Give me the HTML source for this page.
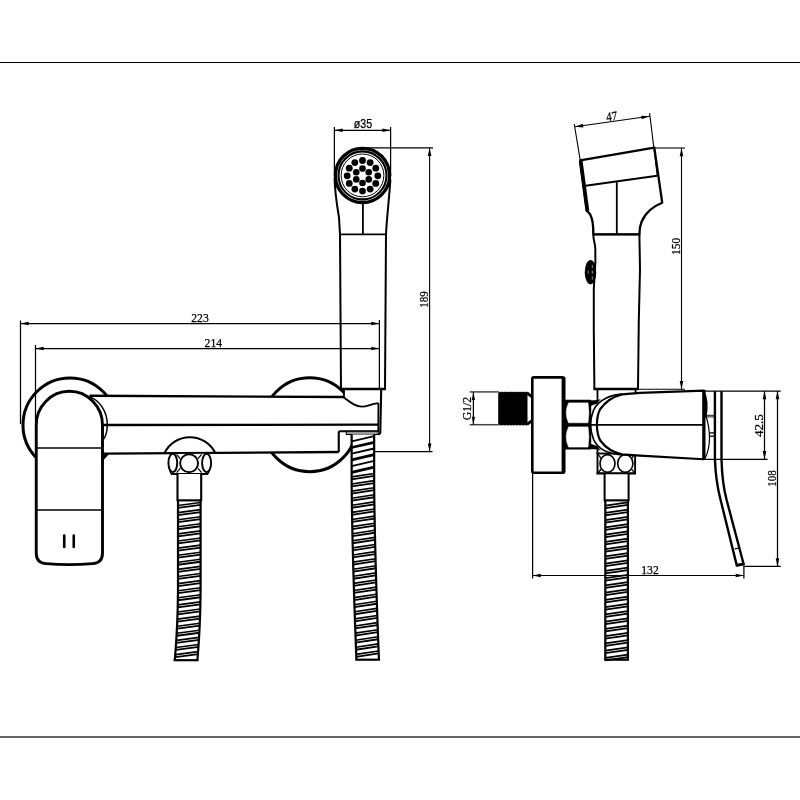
<!DOCTYPE html>
<html lang="en"><head><meta charset="utf-8"><title>Shower mixer dimension drawing</title>
<style>html,body{margin:0;padding:0;background:#fff;}body{width:800px;height:800px;overflow:hidden;}svg{display:block;will-change:transform;}text{fill:#000;stroke:#000;stroke-width:0.25px;}</style></head>
<body>
<svg width="800" height="800" viewBox="0 0 800 800">
<rect width="800" height="800" fill="#fff"/>
<line x1="0" y1="62.5" x2="800" y2="62.5" stroke="#000" stroke-width="1.05" stroke-linecap="butt"/>
<line x1="0" y1="737" x2="800" y2="737" stroke="#333" stroke-width="1.5" stroke-linecap="butt"/>
<g id="front">
<circle cx="70" cy="425" r="47" fill="#fff" stroke="#000" stroke-width="3"/>
<circle cx="309.7" cy="424.7" r="47" fill="#fff" stroke="#000" stroke-width="3"/>
<path d="M334.6 178 C335 195 337.5 208 339 217.5 L340 234.4 L341 389 L385 389 L386 234.4 C386.6 220 389 200 390.4 180 Z" fill="#fff" stroke="#000" stroke-width="2.0" stroke-linejoin="round" stroke-linecap="butt"/>
<line x1="340" y1="234.4" x2="386" y2="234.4" stroke="#000" stroke-width="1.8" stroke-linecap="butt"/>
<line x1="362.9" y1="203" x2="362.9" y2="234.4" stroke="#000" stroke-width="1.8" stroke-linecap="butt"/>
<path d="M89.5 395.75 L344 397 L344 389 L381.5 389 L380.5 434.5 L346 434.5 L346 431.25 L338.75 431.25 L338.75 452 L103 453.7 L103 396 Z" fill="#fff" stroke="none" stroke-width="0" stroke-linejoin="round" stroke-linecap="butt"/>
<line x1="89.5" y1="395.75" x2="344" y2="397" stroke="#000" stroke-width="2.3" stroke-linecap="butt"/>
<line x1="103" y1="425" x2="378.5" y2="424.7" stroke="#000" stroke-width="2.3" stroke-linecap="butt"/>
<line x1="103" y1="453.7" x2="338.75" y2="452" stroke="#000" stroke-width="2.3" stroke-linecap="butt"/>
<line x1="340.2" y1="389" x2="385.8" y2="389" stroke="#000" stroke-width="2.6" stroke-linecap="butt"/>
<path d="M344 389 L344 397.5 C350 402 355 406.6 362 406.6 C367 406.6 370 404.2 378.3 403.2" fill="none" stroke="#000" stroke-width="1.8" stroke-linejoin="round" stroke-linecap="butt"/>
<path d="M381.2 389 L380.3 432.5 Q380.2 434.3 378 434.3" fill="none" stroke="#000" stroke-width="2.1" stroke-linejoin="round" stroke-linecap="butt"/>
<path d="M378.4 403 L378.3 432" fill="none" stroke="#000" stroke-width="1.8" stroke-linejoin="round" stroke-linecap="butt"/>
<path d="M379 431.25 L340.2 431.25 Q338.75 431.25 338.75 432.8 L338.75 452" fill="none" stroke="#000" stroke-width="2.1" stroke-linejoin="round" stroke-linecap="butt"/>
<rect x="346.3" y="431.3" width="31.8" height="3.2" fill="#999" stroke="#000" stroke-width="1"/>
<path d="M164.3 453.4 A28.3 28.3 0 0 1 215.3 453" fill="none" stroke="#000" stroke-width="2.0" stroke-linejoin="round" stroke-linecap="butt"/>
<g fill="#fff" stroke="#000" stroke-width="1.9">
<path d="M171 454 L168.4 462.8 L171.3 474 L207.8 474 L211 462.8 L208.4 453.8 Z" stroke="none"/>
<ellipse cx="172.8" cy="463" rx="4.4" ry="9.2"/>
<ellipse cx="206.6" cy="463" rx="4.5" ry="9.2"/>
<circle cx="189.1" cy="463.2" r="9"/>
</g>
<line x1="171" y1="474" x2="208" y2="474" stroke="#000" stroke-width="2.1" stroke-linecap="butt"/>
<line x1="176.6" y1="454.3" x2="180.2" y2="458.6" stroke="#000" stroke-width="1.25" stroke-linecap="butt"/>
<line x1="201.6" y1="454.3" x2="198" y2="458.6" stroke="#000" stroke-width="1.25" stroke-linecap="butt"/>
<line x1="176.6" y1="472.6" x2="180.2" y2="468.3" stroke="#000" stroke-width="1.25" stroke-linecap="butt"/>
<line x1="201.6" y1="472.6" x2="198" y2="468.3" stroke="#000" stroke-width="1.25" stroke-linecap="butt"/>
<line x1="169.6" y1="470" x2="171.2" y2="474" stroke="#000" stroke-width="1.4" stroke-linecap="butt"/>
<line x1="209.7" y1="470" x2="207.9" y2="474" stroke="#000" stroke-width="1.4" stroke-linecap="butt"/>
<path d="M177.5 474 L177.5 500.5 L201.2 500.5 L201.2 474" fill="#fff" stroke="#000" stroke-width="2.1" stroke-linejoin="round" stroke-linecap="butt"/>
<polygon points="178,500.5 178,504.5 178,508.5 178,512.5 178,516.5 178,520.5 178,524.5 178,528.5 178,532.5 178,536.5 178,540.5 178,544.5 178,548.5 178,552.5 178,556.5 178,560.5 178,564.5 178,568.5 178,572.5 178,576.5 178,580.5 178,584.5 177.99,588.5 177.97,592.5 177.92,596.5 177.86,600.5 177.78,604.5 177.69,608.5 177.57,612.5 177.44,616.5 177.28,620.5 177.11,624.5 176.92,628.5 176.72,632.5 176.49,636.5 176.25,640.5 175.99,644.5 175.71,648.5 175.41,652.5 175.09,656.5 174.76,660.5 197.36,660.5 197.69,656.5 198.01,652.5 198.31,648.5 198.59,644.5 198.85,640.5 199.09,636.5 199.32,632.5 199.52,628.5 199.71,624.5 199.88,620.5 200.04,616.5 200.17,612.5 200.29,608.5 200.38,604.5 200.46,600.5 200.52,596.5 200.57,592.5 200.59,588.5 200.6,584.5 200.6,580.5 200.6,576.5 200.6,572.5 200.6,568.5 200.6,564.5 200.6,560.5 200.6,556.5 200.6,552.5 200.6,548.5 200.6,544.5 200.6,540.5 200.6,536.5 200.6,532.5 200.6,528.5 200.6,524.5 200.6,520.5 200.6,516.5 200.6,512.5 200.6,508.5 200.6,504.5 200.6,500.5" fill="#fff"/>
<line x1="178" y1="505.5" x2="200.6" y2="502.5" stroke="#000" stroke-width="1.65" stroke-linecap="butt"/>
<line x1="178" y1="507.95" x2="200.6" y2="504.95" stroke="#000" stroke-width="1.85" stroke-linecap="butt"/>
<line x1="178" y1="512.6" x2="200.6" y2="509.6" stroke="#000" stroke-width="1.65" stroke-linecap="butt"/>
<line x1="178" y1="515.05" x2="200.6" y2="512.05" stroke="#000" stroke-width="1.85" stroke-linecap="butt"/>
<line x1="178" y1="519.7" x2="200.6" y2="516.7" stroke="#000" stroke-width="1.65" stroke-linecap="butt"/>
<line x1="178" y1="522.15" x2="200.6" y2="519.15" stroke="#000" stroke-width="1.85" stroke-linecap="butt"/>
<line x1="178" y1="526.8" x2="200.6" y2="523.8" stroke="#000" stroke-width="1.65" stroke-linecap="butt"/>
<line x1="178" y1="529.25" x2="200.6" y2="526.25" stroke="#000" stroke-width="1.85" stroke-linecap="butt"/>
<line x1="178" y1="533.9" x2="200.6" y2="530.9" stroke="#000" stroke-width="1.65" stroke-linecap="butt"/>
<line x1="178" y1="536.35" x2="200.6" y2="533.35" stroke="#000" stroke-width="1.85" stroke-linecap="butt"/>
<line x1="178" y1="541" x2="200.6" y2="538" stroke="#000" stroke-width="1.65" stroke-linecap="butt"/>
<line x1="178" y1="543.45" x2="200.6" y2="540.45" stroke="#000" stroke-width="1.85" stroke-linecap="butt"/>
<line x1="178" y1="548.1" x2="200.6" y2="545.1" stroke="#000" stroke-width="1.65" stroke-linecap="butt"/>
<line x1="178" y1="550.55" x2="200.6" y2="547.55" stroke="#000" stroke-width="1.85" stroke-linecap="butt"/>
<line x1="178" y1="555.2" x2="200.6" y2="552.2" stroke="#000" stroke-width="1.65" stroke-linecap="butt"/>
<line x1="178" y1="557.65" x2="200.6" y2="554.65" stroke="#000" stroke-width="1.85" stroke-linecap="butt"/>
<line x1="178" y1="562.3" x2="200.6" y2="559.3" stroke="#000" stroke-width="1.65" stroke-linecap="butt"/>
<line x1="178" y1="564.75" x2="200.6" y2="561.75" stroke="#000" stroke-width="1.85" stroke-linecap="butt"/>
<line x1="178" y1="569.4" x2="200.6" y2="566.4" stroke="#000" stroke-width="1.65" stroke-linecap="butt"/>
<line x1="178" y1="571.85" x2="200.6" y2="568.85" stroke="#000" stroke-width="1.85" stroke-linecap="butt"/>
<line x1="178" y1="576.5" x2="200.6" y2="573.5" stroke="#000" stroke-width="1.65" stroke-linecap="butt"/>
<line x1="178" y1="578.95" x2="200.6" y2="575.95" stroke="#000" stroke-width="1.85" stroke-linecap="butt"/>
<line x1="178" y1="583.6" x2="200.6" y2="580.6" stroke="#000" stroke-width="1.65" stroke-linecap="butt"/>
<line x1="178" y1="586.05" x2="200.6" y2="583.05" stroke="#000" stroke-width="1.85" stroke-linecap="butt"/>
<line x1="178" y1="590.7" x2="200.6" y2="587.7" stroke="#000" stroke-width="1.65" stroke-linecap="butt"/>
<line x1="178" y1="593.15" x2="200.6" y2="590.15" stroke="#000" stroke-width="1.85" stroke-linecap="butt"/>
<line x1="177.97" y1="597.8" x2="200.57" y2="594.8" stroke="#000" stroke-width="1.65" stroke-linecap="butt"/>
<line x1="177.97" y1="600.25" x2="200.57" y2="597.25" stroke="#000" stroke-width="1.85" stroke-linecap="butt"/>
<line x1="177.87" y1="604.9" x2="200.47" y2="601.9" stroke="#000" stroke-width="1.65" stroke-linecap="butt"/>
<line x1="177.87" y1="607.35" x2="200.47" y2="604.35" stroke="#000" stroke-width="1.85" stroke-linecap="butt"/>
<line x1="177.72" y1="612" x2="200.32" y2="609" stroke="#000" stroke-width="1.65" stroke-linecap="butt"/>
<line x1="177.72" y1="614.45" x2="200.32" y2="611.45" stroke="#000" stroke-width="1.85" stroke-linecap="butt"/>
<line x1="177.52" y1="619.1" x2="200.12" y2="616.1" stroke="#000" stroke-width="1.65" stroke-linecap="butt"/>
<line x1="177.52" y1="621.55" x2="200.12" y2="618.55" stroke="#000" stroke-width="1.85" stroke-linecap="butt"/>
<line x1="177.25" y1="626.2" x2="199.85" y2="623.2" stroke="#000" stroke-width="1.65" stroke-linecap="butt"/>
<line x1="177.25" y1="628.65" x2="199.85" y2="625.65" stroke="#000" stroke-width="1.85" stroke-linecap="butt"/>
<line x1="176.93" y1="633.3" x2="199.53" y2="630.3" stroke="#000" stroke-width="1.65" stroke-linecap="butt"/>
<line x1="176.93" y1="635.75" x2="199.53" y2="632.75" stroke="#000" stroke-width="1.85" stroke-linecap="butt"/>
<line x1="176.55" y1="640.4" x2="199.15" y2="637.4" stroke="#000" stroke-width="1.65" stroke-linecap="butt"/>
<line x1="176.55" y1="642.85" x2="199.15" y2="639.85" stroke="#000" stroke-width="1.85" stroke-linecap="butt"/>
<line x1="176.12" y1="647.5" x2="198.72" y2="644.5" stroke="#000" stroke-width="1.65" stroke-linecap="butt"/>
<line x1="176.12" y1="649.95" x2="198.72" y2="646.95" stroke="#000" stroke-width="1.85" stroke-linecap="butt"/>
<line x1="175.63" y1="654.6" x2="198.23" y2="651.6" stroke="#000" stroke-width="1.65" stroke-linecap="butt"/>
<line x1="175.63" y1="657.05" x2="198.23" y2="654.05" stroke="#000" stroke-width="1.85" stroke-linecap="butt"/>
<path d="M178 500.5 L178 504.5 L178 508.5 L178 512.5 L178 516.5 L178 520.5 L178 524.5 L178 528.5 L178 532.5 L178 536.5 L178 540.5 L178 544.5 L178 548.5 L178 552.5 L178 556.5 L178 560.5 L178 564.5 L178 568.5 L178 572.5 L178 576.5 L178 580.5 L178 584.5 L177.99 588.5 L177.97 592.5 L177.92 596.5 L177.86 600.5 L177.78 604.5 L177.69 608.5 L177.57 612.5 L177.44 616.5 L177.28 620.5 L177.11 624.5 L176.92 628.5 L176.72 632.5 L176.49 636.5 L176.25 640.5 L175.99 644.5 L175.71 648.5 L175.41 652.5 L175.09 656.5 L174.76 660.5" fill="none" stroke="#000" stroke-width="2.2" stroke-linejoin="round" stroke-linecap="butt"/>
<path d="M200.6 500.5 L200.6 504.5 L200.6 508.5 L200.6 512.5 L200.6 516.5 L200.6 520.5 L200.6 524.5 L200.6 528.5 L200.6 532.5 L200.6 536.5 L200.6 540.5 L200.6 544.5 L200.6 548.5 L200.6 552.5 L200.6 556.5 L200.6 560.5 L200.6 564.5 L200.6 568.5 L200.6 572.5 L200.6 576.5 L200.6 580.5 L200.6 584.5 L200.59 588.5 L200.57 592.5 L200.52 596.5 L200.46 600.5 L200.38 604.5 L200.29 608.5 L200.17 612.5 L200.04 616.5 L199.88 620.5 L199.71 624.5 L199.52 628.5 L199.32 632.5 L199.09 636.5 L198.85 640.5 L198.59 644.5 L198.31 648.5 L198.01 652.5 L197.69 656.5 L197.36 660.5" fill="none" stroke="#000" stroke-width="2.2" stroke-linejoin="round" stroke-linecap="butt"/>
<line x1="173.66" y1="660.2" x2="198.46" y2="660.2" stroke="#000" stroke-width="2.2" stroke-linecap="butt"/>
<line x1="176.9" y1="500.5" x2="201.8" y2="500.5" stroke="#000" stroke-width="1.9" stroke-linecap="butt"/>
<polygon points="351.65,434.5 351.65,440.14 351.65,445.77 351.65,451.41 351.65,457.05 351.65,462.69 351.65,468.32 351.65,473.96 351.65,479.6 351.67,485.24 351.72,490.88 351.78,496.51 351.86,502.15 351.94,507.79 352.03,513.42 352.14,519.06 352.24,524.7 352.36,530.34 352.48,535.98 352.61,541.61 352.75,547.25 352.89,552.89 353.03,558.52 353.18,564.16 353.34,569.8 353.5,575.44 353.67,581.08 353.84,586.71 354.02,592.35 354.2,597.99 354.38,603.62 354.57,609.26 354.76,614.9 354.96,620.54 355.16,626.17 355.37,631.81 355.58,637.45 355.79,643.09 356.01,648.73 356.23,654.36 356.45,660 378.95,660 378.73,654.36 378.51,648.73 378.29,643.09 378.08,637.45 377.87,631.81 377.66,626.17 377.46,620.54 377.26,614.9 377.07,609.26 376.88,603.62 376.7,597.99 376.52,592.35 376.34,586.71 376.17,581.08 376,575.44 375.84,569.8 375.68,564.16 375.53,558.52 375.39,552.89 375.25,547.25 375.11,541.61 374.98,535.98 374.86,530.34 374.74,524.7 374.64,519.06 374.53,513.42 374.44,507.79 374.36,502.15 374.28,496.51 374.22,490.88 374.17,485.24 374.15,479.6 374.15,473.96 374.15,468.32 374.15,462.69 374.15,457.05 374.15,451.41 374.15,445.77 374.15,440.14 374.15,434.5" fill="#fff"/>
<line x1="351.65" y1="441.3" x2="374.15" y2="436.1" stroke="#000" stroke-width="1.8" stroke-linecap="butt"/>
<line x1="351.65" y1="447.5" x2="374.15" y2="442.3" stroke="#000" stroke-width="2.8" stroke-linecap="butt"/>
<line x1="351.65" y1="453.7" x2="374.15" y2="448.5" stroke="#000" stroke-width="1.8" stroke-linecap="butt"/>
<line x1="351.65" y1="459.9" x2="374.15" y2="454.7" stroke="#000" stroke-width="2.8" stroke-linecap="butt"/>
<line x1="351.65" y1="466.1" x2="374.15" y2="460.9" stroke="#000" stroke-width="1.8" stroke-linecap="butt"/>
<line x1="351.65" y1="472.3" x2="374.15" y2="467.1" stroke="#000" stroke-width="2.8" stroke-linecap="butt"/>
<line x1="351.65" y1="476.9" x2="374.15" y2="473.5" stroke="#000" stroke-width="1.65" stroke-linecap="butt"/>
<line x1="351.65" y1="479.35" x2="374.15" y2="475.95" stroke="#000" stroke-width="1.85" stroke-linecap="butt"/>
<line x1="351.65" y1="484" x2="374.15" y2="480.6" stroke="#000" stroke-width="1.65" stroke-linecap="butt"/>
<line x1="351.65" y1="486.45" x2="374.15" y2="483.05" stroke="#000" stroke-width="1.85" stroke-linecap="butt"/>
<line x1="351.68" y1="491.1" x2="374.18" y2="487.7" stroke="#000" stroke-width="1.65" stroke-linecap="butt"/>
<line x1="351.68" y1="493.55" x2="374.18" y2="490.15" stroke="#000" stroke-width="1.85" stroke-linecap="butt"/>
<line x1="351.74" y1="498.2" x2="374.24" y2="494.8" stroke="#000" stroke-width="1.65" stroke-linecap="butt"/>
<line x1="351.74" y1="500.65" x2="374.24" y2="497.25" stroke="#000" stroke-width="1.85" stroke-linecap="butt"/>
<line x1="351.83" y1="505.3" x2="374.33" y2="501.9" stroke="#000" stroke-width="1.65" stroke-linecap="butt"/>
<line x1="351.83" y1="507.75" x2="374.33" y2="504.35" stroke="#000" stroke-width="1.85" stroke-linecap="butt"/>
<line x1="351.93" y1="512.4" x2="374.43" y2="509" stroke="#000" stroke-width="1.65" stroke-linecap="butt"/>
<line x1="351.93" y1="514.85" x2="374.43" y2="511.45" stroke="#000" stroke-width="1.85" stroke-linecap="butt"/>
<line x1="352.05" y1="519.5" x2="374.55" y2="516.1" stroke="#000" stroke-width="1.65" stroke-linecap="butt"/>
<line x1="352.05" y1="521.95" x2="374.55" y2="518.55" stroke="#000" stroke-width="1.85" stroke-linecap="butt"/>
<line x1="352.18" y1="526.6" x2="374.68" y2="523.2" stroke="#000" stroke-width="1.65" stroke-linecap="butt"/>
<line x1="352.18" y1="529.05" x2="374.68" y2="525.65" stroke="#000" stroke-width="1.85" stroke-linecap="butt"/>
<line x1="352.32" y1="533.7" x2="374.82" y2="530.3" stroke="#000" stroke-width="1.65" stroke-linecap="butt"/>
<line x1="352.32" y1="536.15" x2="374.82" y2="532.75" stroke="#000" stroke-width="1.85" stroke-linecap="butt"/>
<line x1="352.47" y1="540.8" x2="374.97" y2="537.4" stroke="#000" stroke-width="1.65" stroke-linecap="butt"/>
<line x1="352.47" y1="543.25" x2="374.97" y2="539.85" stroke="#000" stroke-width="1.85" stroke-linecap="butt"/>
<line x1="352.64" y1="547.9" x2="375.14" y2="544.5" stroke="#000" stroke-width="1.65" stroke-linecap="butt"/>
<line x1="352.64" y1="550.35" x2="375.14" y2="546.95" stroke="#000" stroke-width="1.85" stroke-linecap="butt"/>
<line x1="352.81" y1="555" x2="375.31" y2="551.6" stroke="#000" stroke-width="1.65" stroke-linecap="butt"/>
<line x1="352.81" y1="557.45" x2="375.31" y2="554.05" stroke="#000" stroke-width="1.85" stroke-linecap="butt"/>
<line x1="352.99" y1="562.1" x2="375.49" y2="558.7" stroke="#000" stroke-width="1.65" stroke-linecap="butt"/>
<line x1="352.99" y1="564.55" x2="375.49" y2="561.15" stroke="#000" stroke-width="1.85" stroke-linecap="butt"/>
<line x1="353.18" y1="569.2" x2="375.68" y2="565.8" stroke="#000" stroke-width="1.65" stroke-linecap="butt"/>
<line x1="353.18" y1="571.65" x2="375.68" y2="568.25" stroke="#000" stroke-width="1.85" stroke-linecap="butt"/>
<line x1="353.38" y1="576.3" x2="375.88" y2="572.9" stroke="#000" stroke-width="1.65" stroke-linecap="butt"/>
<line x1="353.38" y1="578.75" x2="375.88" y2="575.35" stroke="#000" stroke-width="1.85" stroke-linecap="butt"/>
<line x1="353.58" y1="583.4" x2="376.08" y2="580" stroke="#000" stroke-width="1.65" stroke-linecap="butt"/>
<line x1="353.58" y1="585.85" x2="376.08" y2="582.45" stroke="#000" stroke-width="1.85" stroke-linecap="butt"/>
<line x1="353.8" y1="590.5" x2="376.3" y2="587.1" stroke="#000" stroke-width="1.65" stroke-linecap="butt"/>
<line x1="353.8" y1="592.95" x2="376.3" y2="589.55" stroke="#000" stroke-width="1.85" stroke-linecap="butt"/>
<line x1="354.02" y1="597.6" x2="376.52" y2="594.2" stroke="#000" stroke-width="1.65" stroke-linecap="butt"/>
<line x1="354.02" y1="600.05" x2="376.52" y2="596.65" stroke="#000" stroke-width="1.85" stroke-linecap="butt"/>
<line x1="354.25" y1="604.7" x2="376.75" y2="601.3" stroke="#000" stroke-width="1.65" stroke-linecap="butt"/>
<line x1="354.25" y1="607.15" x2="376.75" y2="603.75" stroke="#000" stroke-width="1.85" stroke-linecap="butt"/>
<line x1="354.48" y1="611.8" x2="376.98" y2="608.4" stroke="#000" stroke-width="1.65" stroke-linecap="butt"/>
<line x1="354.48" y1="614.25" x2="376.98" y2="610.85" stroke="#000" stroke-width="1.85" stroke-linecap="butt"/>
<line x1="354.72" y1="618.9" x2="377.22" y2="615.5" stroke="#000" stroke-width="1.65" stroke-linecap="butt"/>
<line x1="354.72" y1="621.35" x2="377.22" y2="617.95" stroke="#000" stroke-width="1.85" stroke-linecap="butt"/>
<line x1="354.97" y1="626" x2="377.47" y2="622.6" stroke="#000" stroke-width="1.65" stroke-linecap="butt"/>
<line x1="354.97" y1="628.45" x2="377.47" y2="625.05" stroke="#000" stroke-width="1.85" stroke-linecap="butt"/>
<line x1="355.23" y1="633.1" x2="377.73" y2="629.7" stroke="#000" stroke-width="1.65" stroke-linecap="butt"/>
<line x1="355.23" y1="635.55" x2="377.73" y2="632.15" stroke="#000" stroke-width="1.85" stroke-linecap="butt"/>
<line x1="355.49" y1="640.2" x2="377.99" y2="636.8" stroke="#000" stroke-width="1.65" stroke-linecap="butt"/>
<line x1="355.49" y1="642.65" x2="377.99" y2="639.25" stroke="#000" stroke-width="1.85" stroke-linecap="butt"/>
<line x1="355.75" y1="647.3" x2="378.25" y2="643.9" stroke="#000" stroke-width="1.65" stroke-linecap="butt"/>
<line x1="355.75" y1="649.75" x2="378.25" y2="646.35" stroke="#000" stroke-width="1.85" stroke-linecap="butt"/>
<line x1="356.02" y1="654.4" x2="378.52" y2="651" stroke="#000" stroke-width="1.65" stroke-linecap="butt"/>
<line x1="356.02" y1="656.85" x2="378.52" y2="653.45" stroke="#000" stroke-width="1.85" stroke-linecap="butt"/>
<path d="M351.65 434.5 L351.65 440.14 L351.65 445.77 L351.65 451.41 L351.65 457.05 L351.65 462.69 L351.65 468.32 L351.65 473.96 L351.65 479.6 L351.67 485.24 L351.72 490.88 L351.78 496.51 L351.86 502.15 L351.94 507.79 L352.03 513.42 L352.14 519.06 L352.24 524.7 L352.36 530.34 L352.48 535.98 L352.61 541.61 L352.75 547.25 L352.89 552.89 L353.03 558.52 L353.18 564.16 L353.34 569.8 L353.5 575.44 L353.67 581.08 L353.84 586.71 L354.02 592.35 L354.2 597.99 L354.38 603.62 L354.57 609.26 L354.76 614.9 L354.96 620.54 L355.16 626.17 L355.37 631.81 L355.58 637.45 L355.79 643.09 L356.01 648.73 L356.23 654.36 L356.45 660" fill="none" stroke="#000" stroke-width="2.2" stroke-linejoin="round" stroke-linecap="butt"/>
<path d="M374.15 434.5 L374.15 440.14 L374.15 445.77 L374.15 451.41 L374.15 457.05 L374.15 462.69 L374.15 468.32 L374.15 473.96 L374.15 479.6 L374.17 485.24 L374.22 490.88 L374.28 496.51 L374.36 502.15 L374.44 507.79 L374.53 513.42 L374.64 519.06 L374.74 524.7 L374.86 530.34 L374.98 535.98 L375.11 541.61 L375.25 547.25 L375.39 552.89 L375.53 558.52 L375.68 564.16 L375.84 569.8 L376 575.44 L376.17 581.08 L376.34 586.71 L376.52 592.35 L376.7 597.99 L376.88 603.62 L377.07 609.26 L377.26 614.9 L377.46 620.54 L377.66 626.17 L377.87 631.81 L378.08 637.45 L378.29 643.09 L378.51 648.73 L378.73 654.36 L378.95 660" fill="none" stroke="#000" stroke-width="2.2" stroke-linejoin="round" stroke-linecap="butt"/>
<line x1="355.35" y1="659.7" x2="380.05" y2="659.7" stroke="#000" stroke-width="2.2" stroke-linecap="butt"/>
<path d="M36.25 425 A33.1 33.7 0 0 1 102.5 425 L102.5 553 Q102.5 563 92.5 563.6 Q69 565.6 46 563.6 Q36.25 563 36.25 553 Z" fill="#fff" stroke="#000" stroke-width="2.9" stroke-linejoin="round" stroke-linecap="butt"/>
<line x1="36.25" y1="448" x2="102.5" y2="448" stroke="#000" stroke-width="1.6" stroke-linecap="butt"/>
<line x1="36.25" y1="510" x2="102.5" y2="510" stroke="#000" stroke-width="1.6" stroke-linecap="butt"/>
<line x1="64.25" y1="535.5" x2="64.25" y2="547" stroke="#000" stroke-width="2.6" stroke-linecap="round"/>
<line x1="73.75" y1="535.5" x2="73.75" y2="547" stroke="#000" stroke-width="2.6" stroke-linecap="round"/>
<path d="M89.6 396.9 C99 400 107.4 411 107.3 425 C107.2 432 105.5 437 103 439.8" fill="none" stroke="#000" stroke-width="1.5" stroke-linejoin="round" stroke-linecap="butt"/>
<circle cx="362.5" cy="175.4" r="27.1" fill="#fff" stroke="#000" stroke-width="3.3"/>
<circle cx="362.5" cy="175.4" r="24" fill="none" stroke="#000" stroke-width="2.1"/>
<circle cx="362.5" cy="175.4" r="21.4" fill="none" stroke="#000" stroke-width="1"/>
<circle cx="362.5" cy="160.5" r="3.4"/>
<circle cx="354.85" cy="162.55" r="3.4"/>
<circle cx="349.25" cy="168.15" r="3.4"/>
<circle cx="347.2" cy="175.8" r="3.4"/>
<circle cx="349.25" cy="183.45" r="3.4"/>
<circle cx="354.85" cy="189.05" r="3.4"/>
<circle cx="362.5" cy="191.1" r="3.4"/>
<circle cx="370.15" cy="189.05" r="3.4"/>
<circle cx="375.75" cy="183.45" r="3.4"/>
<circle cx="377.8" cy="175.8" r="3.4"/>
<circle cx="375.75" cy="168.15" r="3.4"/>
<circle cx="370.15" cy="162.55" r="3.4"/>
<circle cx="362.5" cy="168.6" r="3.3"/>
<circle cx="356.26" cy="172.2" r="3.3"/>
<circle cx="356.26" cy="179.4" r="3.3"/>
<circle cx="362.5" cy="183" r="3.3"/>
<circle cx="368.74" cy="179.4" r="3.3"/>
<circle cx="368.74" cy="172.2" r="3.3"/>
</g>
<g id="dimsL">
<line x1="20.5" y1="320.5" x2="20.5" y2="424" stroke="#000" stroke-width="1.25" stroke-linecap="butt"/>
<line x1="379.4" y1="320" x2="379.4" y2="389" stroke="#000" stroke-width="1.25" stroke-linecap="butt"/>
<line x1="20.5" y1="323.5" x2="379.4" y2="323.5" stroke="#000" stroke-width="1.25" stroke-linecap="butt"/>
<polygon points="20.5,323.5 28.7,321.7 28.7,325.3" fill="#000"/>
<polygon points="379.4,323.5 371.2,325.3 371.2,321.7" fill="#000"/>
<text x="200" y="322" font-size="13" text-anchor="middle" textLength="17.5" lengthAdjust="spacingAndGlyphs" font-family="'Liberation Serif', serif">223</text>
<line x1="35.5" y1="345" x2="35.5" y2="425" stroke="#000" stroke-width="1.25" stroke-linecap="butt"/>
<line x1="35.5" y1="348.5" x2="379.4" y2="348.5" stroke="#000" stroke-width="1.25" stroke-linecap="butt"/>
<polygon points="35.5,348.5 43.7,346.7 43.7,350.3" fill="#000"/>
<polygon points="379.4,348.5 371.2,350.3 371.2,346.7" fill="#000"/>
<text x="213.3" y="346.6" font-size="13" text-anchor="middle" textLength="17.5" lengthAdjust="spacingAndGlyphs" font-family="'Liberation Serif', serif">214</text>
<line x1="334.4" y1="127" x2="334.4" y2="176" stroke="#000" stroke-width="1.25" stroke-linecap="butt"/>
<line x1="390.6" y1="127" x2="390.6" y2="176" stroke="#000" stroke-width="1.25" stroke-linecap="butt"/>
<line x1="334.4" y1="130.3" x2="390.6" y2="130.3" stroke="#000" stroke-width="1.25" stroke-linecap="butt"/>
<polygon points="334.4,130.3 342.6,128.5 342.6,132.1" fill="#000"/>
<polygon points="390.6,130.3 382.4,132.1 382.4,128.5" fill="#000"/>
<text x="363" y="128.3" font-size="12.5" text-anchor="middle" textLength="18.4" lengthAdjust="spacingAndGlyphs" font-family="'Liberation Sans', serif">ø35</text>
<line x1="362.5" y1="147.9" x2="433" y2="147.9" stroke="#000" stroke-width="1.25" stroke-linecap="butt"/>
<line x1="375" y1="451.6" x2="432.5" y2="451.6" stroke="#000" stroke-width="1.25" stroke-linecap="butt"/>
<line x1="429.6" y1="147.9" x2="429.6" y2="451.6" stroke="#000" stroke-width="1.1" stroke-linecap="butt"/>
<polygon points="429.6,147.9 431.4,156.1 427.8,156.1" fill="#000"/>
<polygon points="429.6,451.6 427.8,443.4 431.4,443.4" fill="#000"/>
<text x="428" y="299.5" font-size="13" text-anchor="middle" transform="rotate(-90 428 299.5)" textLength="16.5" lengthAdjust="spacingAndGlyphs" font-family="'Liberation Serif', serif">189</text>
</g>
<g id="side">
<path d="M593.4 222 L593.4 236 C593.6 241 595 243 595.3 248 L595.4 262 L593.8 289 L593.8 330 L594.4 389 L638 389 L638.8 320 L640 270 L639.4 234.4 Z" fill="#fff" stroke="#000" stroke-width="2.0" stroke-linejoin="round" stroke-linecap="butt"/>
<path d="M580.25 160.4 L654.3 147.7 L662.2 202.7 C655 205.5 645.6 212 641.5 222 C639.8 226 639.4 230 639.4 234.4 L593.4 234.4 C593.4 226 593.2 220 590.3 214.7 C589 212.5 587.5 211.5 587 211 Z" fill="#fff" stroke="#000" stroke-width="2.3" stroke-linejoin="round" stroke-linecap="butt"/>
<line x1="580.7" y1="161" x2="587.4" y2="211" stroke="#000" stroke-width="3.8" stroke-linecap="butt"/>
<line x1="585.5" y1="185.8" x2="657.2" y2="175.75" stroke="#000" stroke-width="2.0" stroke-linecap="butt"/>
<line x1="616.8" y1="181.5" x2="616.8" y2="234.4" stroke="#000" stroke-width="1.8" stroke-linecap="butt"/>
<line x1="593.4" y1="234.4" x2="639.4" y2="234.4" stroke="#000" stroke-width="1.6" stroke-linecap="butt"/>
<line x1="593.6" y1="389" x2="638.6" y2="389" stroke="#000" stroke-width="2.6" stroke-linecap="butt"/>
<ellipse cx="590.5" cy="272.2" rx="5.75" ry="12.2" fill="#000"/>
<line x1="592.3" y1="264.9" x2="592.3" y2="268.1" stroke="#bbb" stroke-width="0.8" stroke-linecap="butt"/>
<line x1="592.3" y1="270.6" x2="592.3" y2="273.8" stroke="#bbb" stroke-width="0.8" stroke-linecap="butt"/>
<line x1="592.3" y1="276.4" x2="592.3" y2="279.6" stroke="#bbb" stroke-width="0.8" stroke-linecap="butt"/>
<line x1="588.2" y1="270.6" x2="588.2" y2="273.8" stroke="#999" stroke-width="0.8" stroke-linecap="butt"/>
<polygon points="498.2,393.1 499,392.2 499.75,391.4 500.5,392.3 501.25,391.4 502,392.3 502.75,391.4 503.5,392.3 504.25,391.4 505,392.3 505.75,391.4 506.5,392.3 507.25,391.4 508,392.3 508.75,391.4 509.5,392.3 510.25,391.4 511,392.3 511.75,391.4 512.5,392.3 513.25,391.4 514,392.3 514.75,391.4 515.5,392.3 516.25,391.4 517,392.3 517.75,391.4 518.5,392.3 519.25,391.4 520,392.3 520.75,391.4 521.5,392.3 522.25,391.4 523,392.3 523.75,391.4 524.5,392.3 525.25,391.4 526,392.3 526.75,391.4 527.5,392.3 527.5,392.5 527.5,424.6 526.75,425.7 526,424.8 525.25,425.7 524.5,424.8 523.75,425.7 523,424.8 522.25,425.7 521.5,424.8 520.75,425.7 520,424.8 519.25,425.7 518.5,424.8 517.75,425.7 517,424.8 516.25,425.7 515.5,424.8 514.75,425.7 514,424.8 513.25,425.7 512.5,424.8 511.75,425.7 511,424.8 510.25,425.7 509.5,424.8 508.75,425.7 508,424.8 507.25,425.7 506.5,424.8 505.75,425.7 505,424.8 504.25,425.7 503.5,424.8 502.75,425.7 502,424.8 501.25,425.7 500.5,424.8 499.75,425.7 499,424.8 498.2,424" fill="#000"/>
<line x1="527" y1="392.8" x2="532" y2="396.8" stroke="#000" stroke-width="2.8" stroke-linecap="butt"/>
<line x1="527" y1="424.4" x2="532" y2="420.6" stroke="#000" stroke-width="2.8" stroke-linecap="butt"/>
<rect x="532.3" y="377.4" width="31.8" height="95.4" rx="1.5" fill="#fff" stroke="#000" stroke-width="2.6"/>
<line x1="563.4" y1="377" x2="563.4" y2="473.2" stroke="#000" stroke-width="3.6" stroke-linecap="butt"/>
<rect x="563" y="399.8" width="28.2" height="49.7" rx="1" fill="#000"/>
<path d="M568.6 402.9 L588 402.9 Q589.8 412.8 588 422.75 L568.6 422.75 Q563.9 412.8 568.6 402.9 Z" fill="#fff" stroke="#fff" stroke-width="0.6" stroke-linejoin="round"/>
<path d="M568.6 426.9 L588 426.9 Q589.8 437 588 447.1 L568.6 447.1 Q563.9 437 568.6 426.9 Z" fill="#fff" stroke="#fff" stroke-width="0.6" stroke-linejoin="round"/>
<polygon points="589.5,400.6 598.5,400 601,398.6 597.2,403.6 590.5,405.9" fill="#000"/>
<polygon points="590.5,443.7 597.2,446 601,451 598.5,449.6 589.5,449" fill="#000"/>
<path d="M597.5 389 L597.5 401 M635.6 389 L635.6 394" fill="none" stroke="#000" stroke-width="1.8" stroke-linejoin="round" stroke-linecap="butt"/>
<rect x="597.5" y="453.5" width="37.6" height="19.9" fill="#fff" stroke="#000" stroke-width="1.9"/>
<line x1="597.5" y1="447" x2="597.5" y2="454" stroke="#000" stroke-width="1.9" stroke-linecap="butt"/>
<line x1="598" y1="454" x2="601.2" y2="458.6" stroke="#000" stroke-width="1.25" stroke-linecap="butt"/>
<line x1="634.6" y1="454" x2="631.6" y2="458.6" stroke="#000" stroke-width="1.25" stroke-linecap="butt"/>
<line x1="598" y1="473" x2="601.2" y2="469" stroke="#000" stroke-width="1.25" stroke-linecap="butt"/>
<line x1="634.6" y1="473" x2="631.6" y2="469" stroke="#000" stroke-width="1.25" stroke-linecap="butt"/>
<ellipse cx="607.5" cy="463.5" rx="7.5" ry="8.9" fill="#fff" stroke="#000" stroke-width="1.6"/>
<ellipse cx="625.3" cy="463.5" rx="7.6" ry="8.9" fill="#fff" stroke="#000" stroke-width="1.6"/>
<path d="M604.6 473.4 L604.6 500.5 L628.6 500.5 L628.6 473.4" fill="#fff" stroke="#000" stroke-width="2.0" stroke-linejoin="round" stroke-linecap="butt"/>
<line x1="596.6" y1="473.4" x2="636" y2="473.4" stroke="#000" stroke-width="1.9" stroke-linecap="butt"/>
<polygon points="605.3,500.5 605.3,504.49 605.3,508.48 605.3,512.46 605.3,516.45 605.3,520.44 605.3,524.42 605.3,528.41 605.3,532.4 605.3,536.39 605.3,540.38 605.3,544.36 605.3,548.35 605.3,552.34 605.3,556.33 605.3,560.31 605.3,564.3 605.3,568.29 605.3,572.27 605.3,576.26 605.3,580.25 605.3,584.24 605.3,588.23 605.3,592.21 605.3,596.2 605.3,600.19 605.3,604.17 605.3,608.16 605.3,612.15 605.3,616.14 605.3,620.12 605.3,624.11 605.3,628.1 605.3,632.09 605.3,636.08 605.3,640.06 605.3,644.05 605.3,648.04 605.3,652.02 605.3,656.01 605.3,660 627.9,660 627.9,656.01 627.9,652.02 627.9,648.04 627.9,644.05 627.9,640.06 627.9,636.08 627.9,632.09 627.9,628.1 627.9,624.11 627.9,620.12 627.9,616.14 627.9,612.15 627.9,608.16 627.9,604.17 627.9,600.19 627.9,596.2 627.9,592.21 627.9,588.23 627.9,584.24 627.9,580.25 627.9,576.26 627.9,572.27 627.9,568.29 627.9,564.3 627.9,560.31 627.9,556.33 627.9,552.34 627.9,548.35 627.9,544.36 627.9,540.38 627.9,536.39 627.9,532.4 627.9,528.41 627.9,524.42 627.9,520.44 627.9,516.45 627.9,512.46 627.9,508.48 627.9,504.49 627.9,500.5" fill="#fff"/>
<line x1="605.3" y1="505.6" x2="627.9" y2="502.4" stroke="#000" stroke-width="1.65" stroke-linecap="butt"/>
<line x1="605.3" y1="508.05" x2="627.9" y2="504.85" stroke="#000" stroke-width="1.85" stroke-linecap="butt"/>
<line x1="605.3" y1="512.85" x2="627.9" y2="509.65" stroke="#000" stroke-width="1.65" stroke-linecap="butt"/>
<line x1="605.3" y1="515.3" x2="627.9" y2="512.1" stroke="#000" stroke-width="1.85" stroke-linecap="butt"/>
<line x1="605.3" y1="520.1" x2="627.9" y2="516.9" stroke="#000" stroke-width="1.65" stroke-linecap="butt"/>
<line x1="605.3" y1="522.55" x2="627.9" y2="519.35" stroke="#000" stroke-width="1.85" stroke-linecap="butt"/>
<line x1="605.3" y1="527.35" x2="627.9" y2="524.15" stroke="#000" stroke-width="1.65" stroke-linecap="butt"/>
<line x1="605.3" y1="529.8" x2="627.9" y2="526.6" stroke="#000" stroke-width="1.85" stroke-linecap="butt"/>
<line x1="605.3" y1="534.6" x2="627.9" y2="531.4" stroke="#000" stroke-width="1.65" stroke-linecap="butt"/>
<line x1="605.3" y1="537.05" x2="627.9" y2="533.85" stroke="#000" stroke-width="1.85" stroke-linecap="butt"/>
<line x1="605.3" y1="541.85" x2="627.9" y2="538.65" stroke="#000" stroke-width="1.65" stroke-linecap="butt"/>
<line x1="605.3" y1="544.3" x2="627.9" y2="541.1" stroke="#000" stroke-width="1.85" stroke-linecap="butt"/>
<line x1="605.3" y1="549.1" x2="627.9" y2="545.9" stroke="#000" stroke-width="1.65" stroke-linecap="butt"/>
<line x1="605.3" y1="551.55" x2="627.9" y2="548.35" stroke="#000" stroke-width="1.85" stroke-linecap="butt"/>
<line x1="605.3" y1="556.35" x2="627.9" y2="553.15" stroke="#000" stroke-width="1.65" stroke-linecap="butt"/>
<line x1="605.3" y1="558.8" x2="627.9" y2="555.6" stroke="#000" stroke-width="1.85" stroke-linecap="butt"/>
<line x1="605.3" y1="563.6" x2="627.9" y2="560.4" stroke="#000" stroke-width="1.65" stroke-linecap="butt"/>
<line x1="605.3" y1="566.05" x2="627.9" y2="562.85" stroke="#000" stroke-width="1.85" stroke-linecap="butt"/>
<line x1="605.3" y1="570.85" x2="627.9" y2="567.65" stroke="#000" stroke-width="1.65" stroke-linecap="butt"/>
<line x1="605.3" y1="573.3" x2="627.9" y2="570.1" stroke="#000" stroke-width="1.85" stroke-linecap="butt"/>
<line x1="605.3" y1="578.1" x2="627.9" y2="574.9" stroke="#000" stroke-width="1.65" stroke-linecap="butt"/>
<line x1="605.3" y1="580.55" x2="627.9" y2="577.35" stroke="#000" stroke-width="1.85" stroke-linecap="butt"/>
<line x1="605.3" y1="585.35" x2="627.9" y2="582.15" stroke="#000" stroke-width="1.65" stroke-linecap="butt"/>
<line x1="605.3" y1="587.8" x2="627.9" y2="584.6" stroke="#000" stroke-width="1.85" stroke-linecap="butt"/>
<line x1="605.3" y1="592.6" x2="627.9" y2="589.4" stroke="#000" stroke-width="1.65" stroke-linecap="butt"/>
<line x1="605.3" y1="595.05" x2="627.9" y2="591.85" stroke="#000" stroke-width="1.85" stroke-linecap="butt"/>
<line x1="605.3" y1="599.85" x2="627.9" y2="596.65" stroke="#000" stroke-width="1.65" stroke-linecap="butt"/>
<line x1="605.3" y1="602.3" x2="627.9" y2="599.1" stroke="#000" stroke-width="1.85" stroke-linecap="butt"/>
<line x1="605.3" y1="607.1" x2="627.9" y2="603.9" stroke="#000" stroke-width="1.65" stroke-linecap="butt"/>
<line x1="605.3" y1="609.55" x2="627.9" y2="606.35" stroke="#000" stroke-width="1.85" stroke-linecap="butt"/>
<line x1="605.3" y1="614.35" x2="627.9" y2="611.15" stroke="#000" stroke-width="1.65" stroke-linecap="butt"/>
<line x1="605.3" y1="616.8" x2="627.9" y2="613.6" stroke="#000" stroke-width="1.85" stroke-linecap="butt"/>
<line x1="605.3" y1="621.6" x2="627.9" y2="618.4" stroke="#000" stroke-width="1.65" stroke-linecap="butt"/>
<line x1="605.3" y1="624.05" x2="627.9" y2="620.85" stroke="#000" stroke-width="1.85" stroke-linecap="butt"/>
<line x1="605.3" y1="628.85" x2="627.9" y2="625.65" stroke="#000" stroke-width="1.65" stroke-linecap="butt"/>
<line x1="605.3" y1="631.3" x2="627.9" y2="628.1" stroke="#000" stroke-width="1.85" stroke-linecap="butt"/>
<line x1="605.3" y1="636.1" x2="627.9" y2="632.9" stroke="#000" stroke-width="1.65" stroke-linecap="butt"/>
<line x1="605.3" y1="638.55" x2="627.9" y2="635.35" stroke="#000" stroke-width="1.85" stroke-linecap="butt"/>
<line x1="605.3" y1="643.35" x2="627.9" y2="640.15" stroke="#000" stroke-width="1.65" stroke-linecap="butt"/>
<line x1="605.3" y1="645.8" x2="627.9" y2="642.6" stroke="#000" stroke-width="1.85" stroke-linecap="butt"/>
<line x1="605.3" y1="650.6" x2="627.9" y2="647.4" stroke="#000" stroke-width="1.65" stroke-linecap="butt"/>
<line x1="605.3" y1="653.05" x2="627.9" y2="649.85" stroke="#000" stroke-width="1.85" stroke-linecap="butt"/>
<line x1="605.3" y1="657.85" x2="627.9" y2="654.65" stroke="#000" stroke-width="1.65" stroke-linecap="butt"/>
<line x1="605.3" y1="660.3" x2="627.9" y2="657.1" stroke="#000" stroke-width="1.85" stroke-linecap="butt"/>
<path d="M605.3 500.5 L605.3 504.49 L605.3 508.48 L605.3 512.46 L605.3 516.45 L605.3 520.44 L605.3 524.42 L605.3 528.41 L605.3 532.4 L605.3 536.39 L605.3 540.38 L605.3 544.36 L605.3 548.35 L605.3 552.34 L605.3 556.33 L605.3 560.31 L605.3 564.3 L605.3 568.29 L605.3 572.27 L605.3 576.26 L605.3 580.25 L605.3 584.24 L605.3 588.23 L605.3 592.21 L605.3 596.2 L605.3 600.19 L605.3 604.17 L605.3 608.16 L605.3 612.15 L605.3 616.14 L605.3 620.12 L605.3 624.11 L605.3 628.1 L605.3 632.09 L605.3 636.08 L605.3 640.06 L605.3 644.05 L605.3 648.04 L605.3 652.02 L605.3 656.01 L605.3 660" fill="none" stroke="#000" stroke-width="2.2" stroke-linejoin="round" stroke-linecap="butt"/>
<path d="M627.9 500.5 L627.9 504.49 L627.9 508.48 L627.9 512.46 L627.9 516.45 L627.9 520.44 L627.9 524.42 L627.9 528.41 L627.9 532.4 L627.9 536.39 L627.9 540.38 L627.9 544.36 L627.9 548.35 L627.9 552.34 L627.9 556.33 L627.9 560.31 L627.9 564.3 L627.9 568.29 L627.9 572.27 L627.9 576.26 L627.9 580.25 L627.9 584.24 L627.9 588.23 L627.9 592.21 L627.9 596.2 L627.9 600.19 L627.9 604.17 L627.9 608.16 L627.9 612.15 L627.9 616.14 L627.9 620.12 L627.9 624.11 L627.9 628.1 L627.9 632.09 L627.9 636.08 L627.9 640.06 L627.9 644.05 L627.9 648.04 L627.9 652.02 L627.9 656.01 L627.9 660" fill="none" stroke="#000" stroke-width="2.2" stroke-linejoin="round" stroke-linecap="butt"/>
<line x1="604.2" y1="659.7" x2="629" y2="659.7" stroke="#000" stroke-width="2.2" stroke-linecap="butt"/>
<line x1="603.9" y1="500.5" x2="629.3" y2="500.5" stroke="#000" stroke-width="1.9" stroke-linecap="butt"/>
<path d="M622 394.2 C610 395 598 400 593.6 410 C591.2 416 590.6 420 590.6 424.75 C590.6 429.5 591.2 433.5 593.6 439.5 C598 449.5 610 454 622 455 Z" fill="#fff" stroke="none" stroke-width="0" stroke-linejoin="round" stroke-linecap="butt"/>
<path d="M622 394.2 C610 395 598 400 593.6 410 C591.2 416 590.6 420 590.6 424.75 C590.6 429.5 591.2 433.5 593.6 439.5 C598 449.5 610 454 622 455" fill="none" stroke="#000" stroke-width="1.7" stroke-linejoin="round" stroke-linecap="butt"/>
<path d="M703.75 390.65 L640 392.9 L622 394.4 C613 396.6 605.5 402 600.25 409 C597.6 414 596.9 420 596.9 424.75 C596.9 429.5 597.6 435.5 600.25 440.5 C605.5 447.5 613 452.6 622 454.3 L640 455.6 L703.75 459.25 Z" fill="#fff" stroke="#000" stroke-width="2.2" stroke-linejoin="round" stroke-linecap="butt"/>
<line x1="589" y1="424.8" x2="705" y2="424.8" stroke="#000" stroke-width="1.7" stroke-linecap="butt"/>
<line x1="703.9" y1="389.9" x2="703.9" y2="459.9" stroke="#000" stroke-width="3.2" stroke-linecap="butt"/>
<path d="M704.5 390.6 Q709.6 402 706.4 417.5 L704.5 417.5 Z" fill="#000"/>
<path d="M705.8 415 Q713.6 441 705 458.6" fill="none" stroke="#000" stroke-width="1.2" stroke-linejoin="round" stroke-linecap="butt"/>
<line x1="706.3" y1="415.3" x2="714.5" y2="415.3" stroke="#000" stroke-width="0.9" stroke-linecap="butt"/>
<line x1="706.3" y1="416.9" x2="714.5" y2="416.9" stroke="#000" stroke-width="0.9" stroke-linecap="butt"/>
<line x1="709.6" y1="432.9" x2="714.5" y2="432.9" stroke="#000" stroke-width="1.3" stroke-linecap="butt"/>
<line x1="709.6" y1="436.2" x2="714.5" y2="436.2" stroke="#000" stroke-width="1.3" stroke-linecap="butt"/>
<line x1="715.5" y1="425" x2="721" y2="425" stroke="#000" stroke-width="1.3" stroke-linecap="butt"/>
<path d="M714.9 391.3 L714.9 459 C715.5 475 718 490 720.5 499.5 L736.75 565.3 L743.6 564 L726.5 499.5 C724 490 721.9 475 721.5 459 L721.5 391.3" fill="#fff" stroke="#000" stroke-width="2.4" stroke-linejoin="miter" stroke-linecap="butt"/>
<line x1="736.6" y1="565.6" x2="743.9" y2="564.1" stroke="#000" stroke-width="2.6" stroke-linecap="butt"/>
<line x1="734.7" y1="548.9" x2="738.9" y2="548.1" stroke="#000" stroke-width="1.2" stroke-linecap="butt"/>
</g>
<g id="dimsR">
<line x1="574.25" y1="124" x2="580.25" y2="160.4" stroke="#000" stroke-width="1.1" stroke-linecap="butt"/>
<line x1="649.6" y1="113.1" x2="657.3" y2="176" stroke="#000" stroke-width="1.1" stroke-linecap="butt"/>
<line x1="575" y1="126.8" x2="649.6" y2="116.3" stroke="#000" stroke-width="1.1" stroke-linecap="butt"/>
<polygon points="575,126.8 582.87,123.87 583.37,127.44" fill="#000"/>
<polygon points="649.6,116.3 641.73,119.23 641.23,115.66" fill="#000"/>
<text x="612.3" y="120.4" font-size="12.6" text-anchor="middle" transform="rotate(-8.01 612.3 120.4)" textLength="11.2" lengthAdjust="spacingAndGlyphs" font-family="'Liberation Serif', serif">47</text>
<line x1="654.5" y1="148" x2="685" y2="148" stroke="#000" stroke-width="1.1" stroke-linecap="butt"/>
<line x1="638.5" y1="389.3" x2="685" y2="389.3" stroke="#000" stroke-width="1.1" stroke-linecap="butt"/>
<line x1="681.5" y1="148" x2="681.5" y2="389.3" stroke="#000" stroke-width="1.1" stroke-linecap="butt"/>
<polygon points="681.5,148 683.3,156.2 679.7,156.2" fill="#000"/>
<polygon points="681.5,389.3 679.7,381.1 683.3,381.1" fill="#000"/>
<text x="680.2" y="246.4" font-size="13" text-anchor="middle" transform="rotate(-90 680.2 246.4)" textLength="17" lengthAdjust="spacingAndGlyphs" font-family="'Liberation Serif', serif">150</text>
<line x1="704" y1="391" x2="780.75" y2="391" stroke="#000" stroke-width="1.25" stroke-linecap="butt"/>
<line x1="704" y1="459.25" x2="767.6" y2="459.25" stroke="#000" stroke-width="1.25" stroke-linecap="butt"/>
<line x1="764.5" y1="391" x2="764.5" y2="459.25" stroke="#000" stroke-width="1.25" stroke-linecap="butt"/>
<polygon points="764.5,391 766.3,399.2 762.7,399.2" fill="#000"/>
<polygon points="764.5,459.25 762.7,451.05 766.3,451.05" fill="#000"/>
<text x="763" y="425.6" font-size="13" text-anchor="middle" transform="rotate(-90 763 425.6)" textLength="23" lengthAdjust="spacingAndGlyphs" font-family="'Liberation Serif', serif">42.5</text>
<line x1="743.6" y1="566.4" x2="780.75" y2="566.4" stroke="#000" stroke-width="1.25" stroke-linecap="butt"/>
<line x1="777.5" y1="391" x2="777.5" y2="566.4" stroke="#000" stroke-width="1.25" stroke-linecap="butt"/>
<polygon points="777.5,391 779.3,399.2 775.7,399.2" fill="#000"/>
<polygon points="777.5,566.4 775.7,558.2 779.3,558.2" fill="#000"/>
<text x="776" y="478.5" font-size="13" text-anchor="middle" transform="rotate(-90 776 478.5)" textLength="16.5" lengthAdjust="spacingAndGlyphs" font-family="'Liberation Serif', serif">108</text>
<line x1="532.6" y1="473" x2="532.6" y2="578.4" stroke="#000" stroke-width="1.25" stroke-linecap="butt"/>
<line x1="743.9" y1="566" x2="743.9" y2="578.4" stroke="#000" stroke-width="1.25" stroke-linecap="butt"/>
<line x1="532.6" y1="575.5" x2="743.9" y2="575.5" stroke="#000" stroke-width="1.1" stroke-linecap="butt"/>
<polygon points="532.6,575.5 540.8,573.7 540.8,577.3" fill="#000"/>
<polygon points="743.9,575.5 735.7,577.3 735.7,573.7" fill="#000"/>
<text x="650" y="573.6" font-size="13" text-anchor="middle" textLength="17.5" lengthAdjust="spacingAndGlyphs" font-family="'Liberation Serif', serif">132</text>
<line x1="469.7" y1="391.9" x2="498.75" y2="391.9" stroke="#444" stroke-width="1.5" stroke-linecap="butt"/>
<line x1="469.7" y1="424.7" x2="498.75" y2="424.7" stroke="#444" stroke-width="1.5" stroke-linecap="butt"/>
<line x1="473.4" y1="391.9" x2="473.4" y2="424.7" stroke="#000" stroke-width="1.25" stroke-linecap="butt"/>
<polygon points="473.4,391.9 475,399.9 471.8,399.9" fill="#000"/>
<polygon points="473.4,424.7 471.8,416.7 475,416.7" fill="#000"/>
<text x="471" y="408.5" font-size="13" text-anchor="middle" transform="rotate(-90 471 408.5)" textLength="23.4" lengthAdjust="spacingAndGlyphs" font-family="'Liberation Serif', serif">G1/2</text>
</g>
</svg>
</body></html>
